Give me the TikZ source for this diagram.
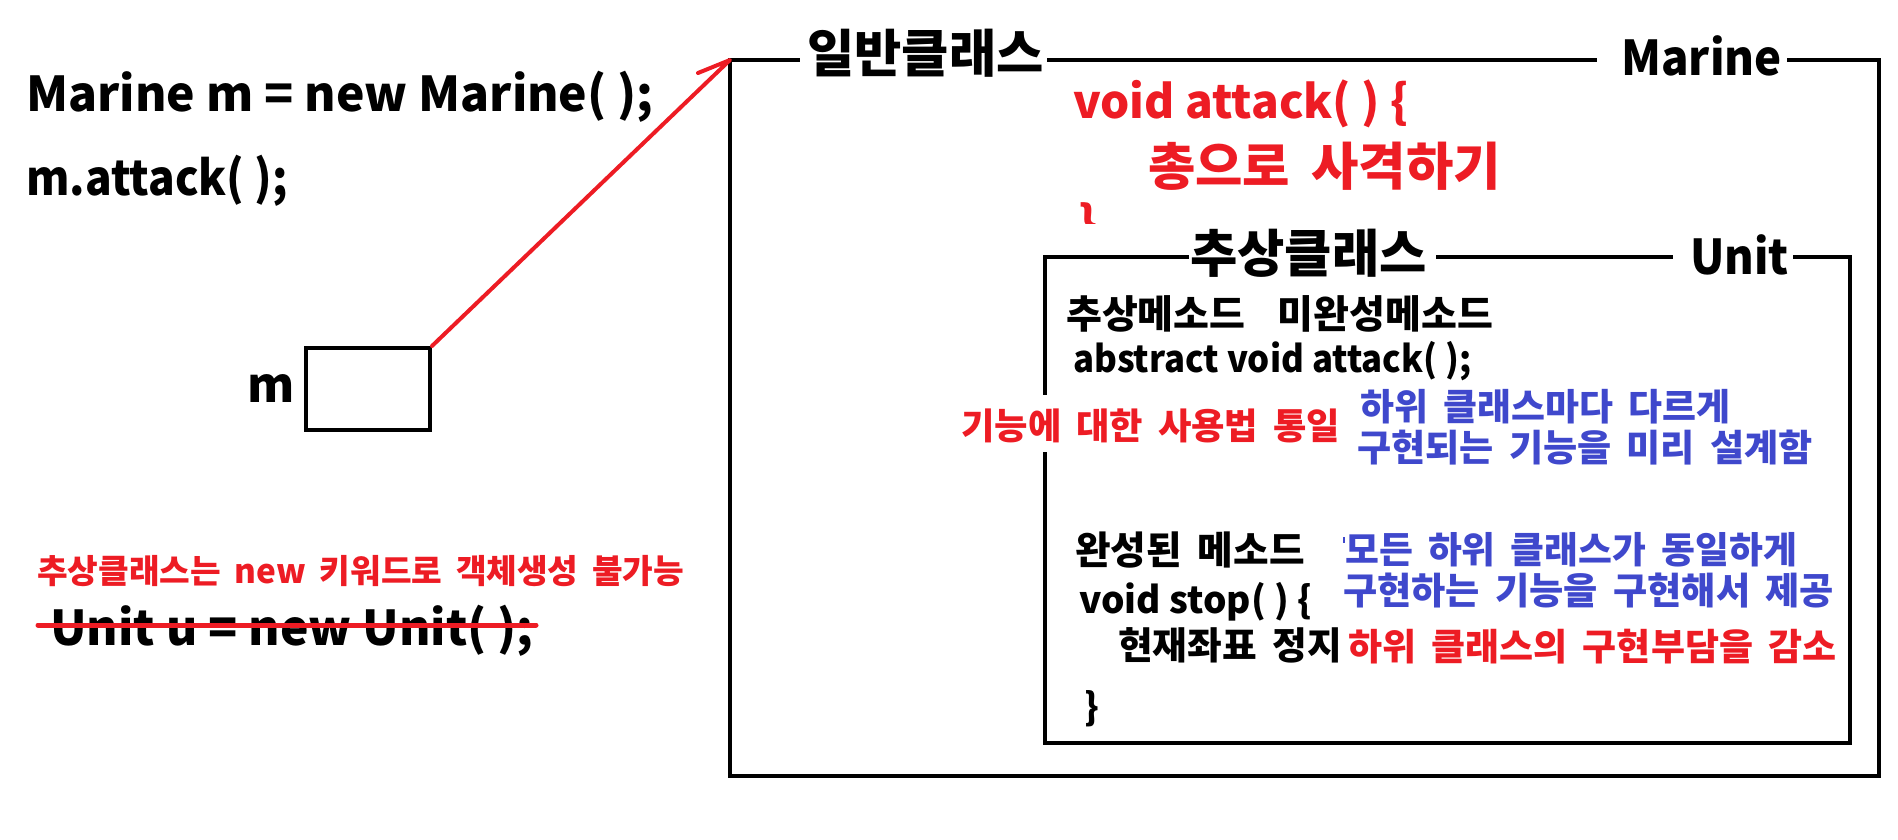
\documentclass[tikz,border=0pt]{standalone}
\usepackage{fontspec}
\usepackage{graphicx}
\setmainfont{Noto Sans CJK KR}[WordSpace=1.8]
\newfontfamily\latf{Noto Sans CJK KR}[WordSpace=1.0]
\usetikzlibrary{arrows.meta}
\definecolor{pred}{RGB}{237,28,36}
\definecolor{pblue}{RGB}{63,72,204}
\tikzset{
  txt/.style={inner sep=0pt, font=\fontsize{#1pt}{#1pt}\selectfont\bfseries},
  lat/.style={inner sep=0pt, anchor=base west, font=\fontsize{#1pt}{#1pt}\selectfont\latf\bfseries},
  kor/.style={txt=#1, anchor=south west},
  framel/.style={line width=4.5pt, line cap=rect, line join=miter},
  redln/.style={draw=pred, line width=4pt, line cap=round, line join=round},
  boxm/.style={draw, line width=4pt, minimum width=124pt, minimum height=82pt, inner sep=0pt},
}
\begin{document}
\begin{tikzpicture}[x=1pt,y=-1pt]
\useasboundingbox (0,0) rectangle (1898,840);
% left side code
\node[lat=48] (l1) at (26,112) {Marine m = new Marine( );};
\node[lat=48] (l2) at (26,195) {\scalebox{0.92}[1]{m.attack( );}};
\node[boxm] (mbox) at (368,389) {};
\node[lat=48] (mlab) at (247,402) {m};
\node[kor=33.3, text=pred] (note) at (37,587) {추상클래스는 {\latf new} 키워드로 객체생성 불가능};
\node[lat=48] (unitu) at (50,645) {Unit u = new Unit( );};
\coordinate (s1) at (38,625);
\coordinate (s2) at (536,625);
\draw[redln, line width=5pt] (s1) -- (s2);
% outer frame
\coordinate (onw) at (730,60);
\coordinate (one) at (1879,60);
\coordinate (ose) at (1879,776);
\coordinate (osw) at (730,776);
\node[kor=51.4] (t1) at (807,78) {일반클래스};
\node[lat=48] (t2) at (1621,76) {\scalebox{0.95}[1]{Marine}};
\draw[framel] (798,60) -- (onw) -- (osw) -- (ose) -- (one) -- (1789,60);
\draw[framel] (1049,60) -- (1595,60);
\node[lat=46, text=pred] (va) at (1073,119) {void attack( ) \{};
\node[kor=51.5, text=pred] (shoot) at (1148,191) {총으로 사격하기};
\begin{scope}
\clip (1060,195) rectangle (1120,223);
\node[lat=48, anchor=north west, text=pred] (rbrace) at (1078,202) {\}};
\end{scope}
% inner frame
\coordinate (inw) at (1045,257);
\coordinate (ine) at (1850,257);
\coordinate (ise) at (1850,743);
\coordinate (isw) at (1045,743);
\node[kor=51.4] (t3) at (1190,278) {추상클래스};
\node[lat=48] (t4) at (1690,274) {\scalebox{0.94}[1]{Unit}};
\draw[framel] (1187,257) -- (inw) -- (1045,393);
\draw[framel] (1045,454) -- (isw) -- (ise) -- (ine) -- (1795,257);
\draw[framel] (1438,257) -- (1671,257);
\node[kor=39] (am) at (1066,332) {추상메소드\ \ 미완성메소드};
\node[lat=37] (abs) at (1073,372) {\scalebox{0.94}[1]{abstract void attack( );}};
\node[kor=36.3, text=pred] (uni) at (961,443) {기능에 대한 사용법 통일};
\node[kor=36.9, text=pblue] (b1) at (1360,424) {하위 클래스마다 다르게};
\node[kor=37.1, text=pblue] (b2) at (1357,465) {구현되는 기능을 미리 설계함};
\node[kor=38.7] (cm) at (1075,568) {완성된 메소드};
\node[lat=37] (vs) at (1079,613) {void stop( ) \{};
\node[kor=37.7] (hj) at (1118,663) {현재좌표 정지};
\node[lat=37, anchor=north west] (cb) at (1084,690) {\}};
\draw[pblue, line width=1.5pt] (1344,537) -- (1344,543);
\node[kor=36.8, text=pblue] (b3) at (1345,567) {모든 하위 클래스가 동일하게};
\node[kor=37.2, text=pblue] (b4) at (1343,608) {구현하는 기능을 구현해서 제공};
\node[kor=37, text=pred] (r2) at (1348,664) {하위 클래스의 구현부담을 감소};
% arrow (one-sided barb)
\draw[redln] (mbox.north east) -- (onw) -- ++(-32,13);
\end{tikzpicture}
\end{document}
